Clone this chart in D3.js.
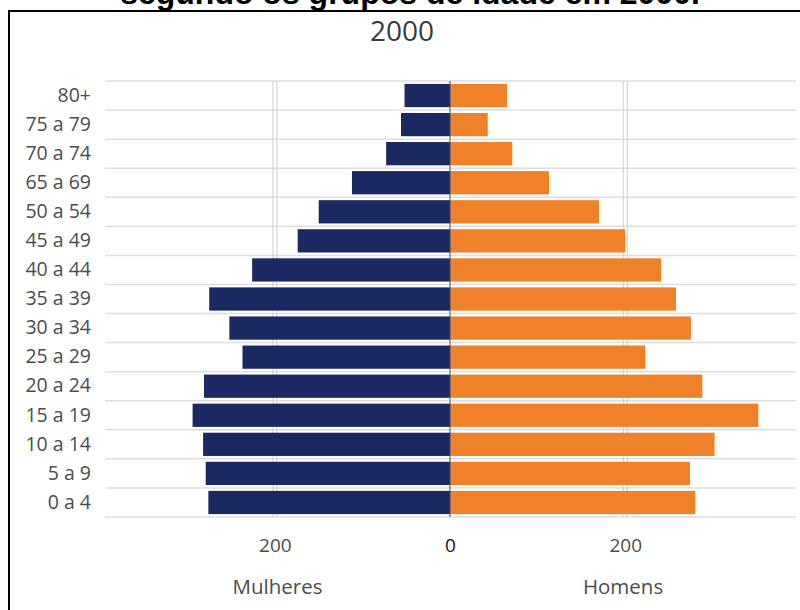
<!DOCTYPE html>
<html>
<head>
<meta charset="utf-8">
<script src="https://cdn.jsdelivr.net/npm/d3@7"></script>
<style>
  html, body { margin: 0; padding: 0; background: #fff; }
  svg { display: block; }
</style>
</head>
<body>
<svg id="chart" width="800" height="610"></svg>
<script>
// Population by age group, 2000 (thousands)
const categories = ["80+", "75 a 79", "70 a 74", "65 a 69", "50 a 54", "45 a 49", "40 a 44",
  "35 a 39", "30 a 34", "25 a 29", "20 a 24", "15 a 19", "10 a 14", "5 a 9", "0 a 4"];
const mulheres = [52, 56, 73, 112, 150, 174, 226, 275, 252, 237, 281, 294, 282, 279, 276];
const homens   = [65, 43, 71, 113, 170, 200, 241, 258, 275, 223, 288, 352, 302, 274, 280];
const xTicks = [-200, 0, 200];
const sideLabels = ["Mulheres", "Homens"];
const chartTitle = "2000";
const pageHeading = "segundo os grupos de idade em 2000.";

const svg = d3.select("#chart");
const font = "'Open Sans', 'Noto Sans', sans-serif";

const plot = { left: 105, right: 796, top: 81, bottom: 517 };

const x = d3.scaleLinear().domain([-394, 395]).range([plot.left, plot.right]);
const y = d3.scaleBand().domain(categories)
  .range([plot.top, plot.bottom]).paddingInner(0.2).paddingOuter(0.1);
const step = y.step();

// heading text above the framed panel (runs past the top edge)
svg.append("text")
  .attr("x", 410).attr("y", 4)
  .attr("text-anchor", "middle")
  .attr("font-family", "'Liberation Sans', Arial, sans-serif")
  .attr("font-weight", "bold")
  .attr("font-size", 32)
  .attr("fill", "#000")
  .text(pageHeading);

// panel frame
svg.append("rect")
  .attr("x", 9).attr("y", 11)
  .attr("width", 830).attr("height", 640)
  .attr("fill", "#fff")
  .attr("stroke", "#000").attr("stroke-width", 2);

// chart title
svg.append("text")
  .attr("x", 402).attr("y", 41)
  .attr("text-anchor", "middle")
  .attr("font-family", font)
  .attr("font-size", 28)
  .attr("fill", "#3a3a3a")
  .text(chartTitle);

// horizontal separators between age groups
const sepY = d3.range(categories.length + 1).map(i => plot.top + i * step);
svg.append("g").selectAll("line").data(sepY).join("line")
  .attr("x1", plot.left).attr("x2", plot.right)
  .attr("y1", d => d).attr("y2", d => d)
  .attr("stroke", "#dedede").attr("stroke-width", 1.5);

// vertical gridlines at the non-zero ticks
const gridG = svg.append("g");
xTicks.filter(t => t !== 0).forEach(t => {
  [-2, 2].forEach(off => {
    gridG.append("line")
      .attr("x1", x(t) + off).attr("x2", x(t) + off)
      .attr("y1", plot.top).attr("y2", plot.bottom)
      .attr("stroke", "#cfcfcf").attr("stroke-width", 1);
  });
});

// bars: women to the left, men to the right
svg.append("g").selectAll("rect").data(categories).join("rect")
  .attr("x", (d, i) => x(-mulheres[i]))
  .attr("y", d => y(d))
  .attr("width", (d, i) => x(0) - x(-mulheres[i]))
  .attr("height", y.bandwidth())
  .attr("fill", "#1b2963");

svg.append("g").selectAll("rect").data(categories).join("rect")
  .attr("x", x(0))
  .attr("y", d => y(d))
  .attr("width", (d, i) => x(homens[i]) - x(0))
  .attr("height", y.bandwidth())
  .attr("fill", "#ef8128");

// zero line
svg.append("line")
  .attr("x1", x(0)).attr("x2", x(0))
  .attr("y1", plot.top).attr("y2", plot.bottom)
  .attr("stroke", "#4a4a4a").attr("stroke-width", 1);

// age group labels
const yAxis = svg.append("g")
  .attr("transform", `translate(${plot.left - 14},0)`)
  .call(d3.axisLeft(y).tickSize(0).tickPadding(0));
yAxis.select(".domain").remove();
yAxis.selectAll("text")
  .attr("font-family", font)
  .attr("font-size", 19.5)
  .attr("fill", "#4d4d4d");

// value axis
const xAxis = svg.append("g")
  .attr("transform", `translate(0,${plot.bottom + 21})`)
  .call(d3.axisBottom(x).tickValues(xTicks).tickSize(0).tickPadding(0)
    .tickFormat(d => d3.format("d")(Math.abs(d))));
xAxis.select(".domain").remove();
xAxis.selectAll("text")
  .attr("font-family", font)
  .attr("font-size", 19)
  .attr("fill", d => d === 0 ? "#111" : "#4d4d4d");

// side labels centred under each half
const halves = [[plot.left, x(0)], [x(0), plot.right]];
svg.append("g").selectAll("text").data(sideLabels).join("text")
  .attr("x", (d, i) => (halves[i][0] + halves[i][1]) / 2)
  .attr("y", 594)
  .attr("text-anchor", "middle")
  .attr("font-family", font)
  .attr("font-size", 20.5)
  .attr("fill", "#4d4d4d")
  .text(d => d);
</script>
</body>
</html>
